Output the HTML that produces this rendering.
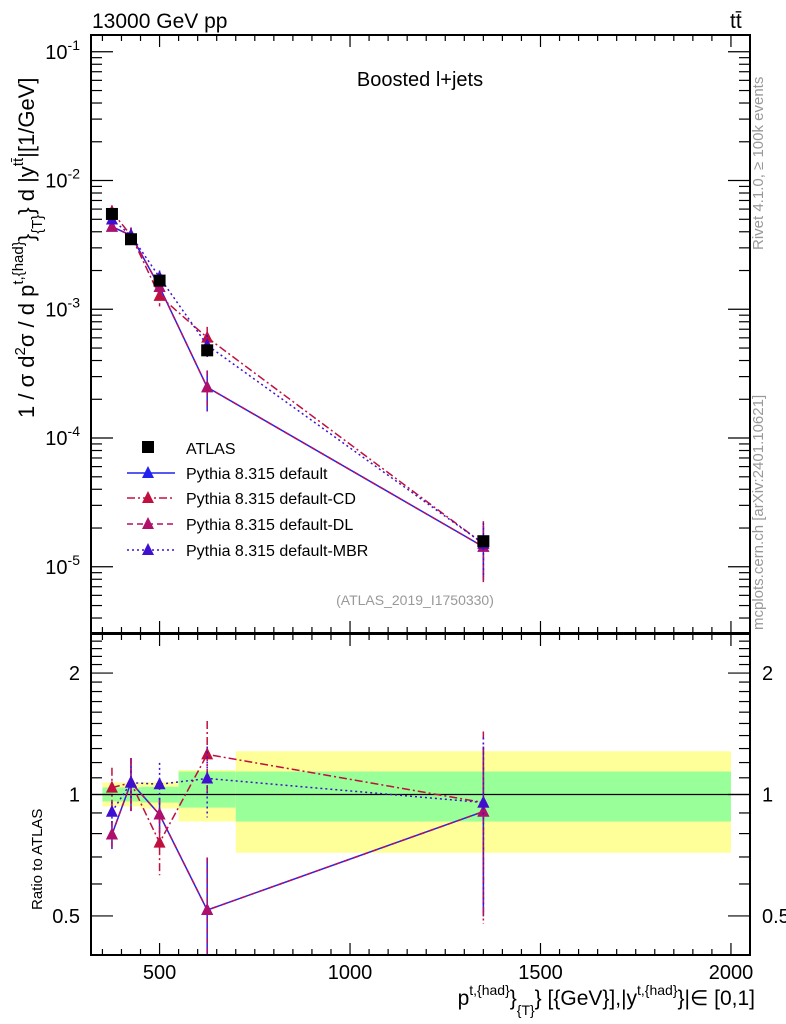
<!DOCTYPE html>
<html><head><meta charset="utf-8"><style>
body{margin:0;background:#fff;}
svg{display:block;font-family:"Liberation Sans",sans-serif;}
</style></head><body>
<svg id="chart" width="786" height="1024" viewBox="0 0 786 1024" xmlns="http://www.w3.org/2000/svg">
<text x="92" y="28" font-size="21">13000 GeV pp</text>
<text x="730" y="28" font-size="21">tt̄</text>
<text x="420" y="86" font-size="20" text-anchor="middle">Boosted l+jets</text>
<text x="415" y="605" font-size="14" fill="#999" text-anchor="middle">(ATLAS_2019_I1750330)</text>
<text transform="translate(763,250) rotate(-90)" font-size="15" fill="#999">Rivet 4.1.0, ≥ 100k events</text>
<text transform="translate(763,630) rotate(-90)" font-size="15" fill="#999">mcplots.cern.ch [arXiv:2401.10621]</text>
<text transform="translate(34,418) rotate(-90)" font-size="22">1 / σ d<tspan dy="-9" font-size="15">2</tspan><tspan dy="9">σ / d p</tspan><tspan dy="-11" font-size="15">t,{had}</tspan><tspan dy="11">}</tspan><tspan dy="8" font-size="15">{T}</tspan><tspan dy="-8">} d |y</tspan><tspan dy="-11" font-size="15">tt̄</tspan><tspan dy="11">|[1/GeV]</tspan></text>
<text transform="translate(42,910) rotate(-90)" font-size="15">Ratio to ATLAS</text>
<text x="755" y="1005" font-size="21" text-anchor="end">p<tspan dy="-10" font-size="14">t,{had}</tspan><tspan dy="10">}</tspan><tspan dy="10" font-size="14">{T}</tspan><tspan dy="-10">} [{GeV}],|y</tspan><tspan dy="-10" font-size="14">t,{had}</tspan><tspan dy="10">}|∈ [0,1]</tspan></text>
<g id="plots"></g>
</svg>
<script>
const xEdges=[350,400,450,550,700,2000];
const xCenters=[375,425,500,625,1350];
const atlasVals=[5.5e-3,3.5e-3,1.67e-3,4.8e-4,1.58e-5];
const bandStatUp=[1.041,1.041,1.045,1.14,1.14];
const bandStatDn=[0.961,0.961,0.955,0.928,0.857];
const bandTotUp=[1.071,1.071,1.075,1.15,1.28];
const bandTotDn=[0.934,0.934,0.923,0.857,0.717];
const defVals=[4.38e-3,3.75e-3,1.49e-3,2.48e-4,1.43e-5];
const cdVals=[5.72e-3,3.75e-3,1.27e-3,6.03e-4,1.51e-5];
const dlVals=[4.38e-3,3.75e-3,1.49e-3,2.48e-4,1.43e-5];
const mbrVals=[4.98e-3,3.75e-3,1.77e-3,5.26e-4,1.51e-5];
const defRatio=[0.796,1.071,0.892,0.517,0.907];
const cdRatio=[1.04,1.07,0.76,1.257,0.955];
const dlRatio=[0.796,1.071,0.892,0.517,0.907];
const mbrRatio=[0.906,1.07,1.06,1.096,0.955];
const defErr=[0.08,0.15,0.1,0.35,0.45];
const cdErr=[0.12,0.15,0.17,0.21,0.5];
const dlErr=[0.08,0.15,0.1,0.35,0.45];
const mbrErr=[0.06,0.1,0.13,0.2,0.45];
const xTickLabels=[500,1000,1500,2000];
const yTickExps=[-1,-2,-3,-4,-5];
const rTickLabels=[0.5,1,2];

const NS="http://www.w3.org/2000/svg";
const g=document.getElementById('plots');
const L=91,R=750,T=35,B=633,RT=634,RB=955;
const X0=320,X1=2050;
function sx(v){return L+(v-X0)/(X1-X0)*(R-L);}
const YMIN=Math.log10(3.06e-6),YMAX=Math.log10(0.135);
function sy(v){return B-(Math.log10(v)-YMIN)/(YMAX-YMIN)*(B-T);}
const RMIN=Math.log10(0.4),RMAX=Math.log10(2.5);
function ry(v){return RB-(Math.log10(v)-RMIN)/(RMAX-RMIN)*(RB-RT);}
function el(t,a,p){const e=document.createElementNS(NS,t);for(const k in a)e.setAttribute(k,a[k]);(p||g).appendChild(e);return e;}

for(let i=0;i<xCenters.length;i++){
  const r1=el('rect',{x:sx(xEdges[i]),y:ry(bandTotUp[i]),width:sx(xEdges[i+1])-sx(xEdges[i]),height:ry(bandTotDn[i])-ry(bandTotUp[i]),fill:'#ffff99'});
  
  
  const r2=el('rect',{x:sx(xEdges[i]),y:ry(bandStatUp[i]),width:sx(xEdges[i+1])-sx(xEdges[i]),height:ry(bandStatDn[i])-ry(bandStatUp[i]),fill:'#99ff99'});
  
  
}
const one=el('line',{x1:L,x2:R,y1:ry(1),y2:ry(1),stroke:'#000','stroke-width':1.2});



function tri(x,y,c,p){const t=el('polygon',{points:`${x},${y-7} ${x-6},${y+5} ${x+6},${y+5}`,fill:c},p);return t;}
const series=[
 {name:'default',vals:defVals,rat:defRatio,err:defErr,c:'#2222ee',dash:''},
 {name:'default-cd',vals:cdVals,rat:cdRatio,err:cdErr,c:'#c01040',dash:'8,3,2,3'},
 {name:'default-dl',vals:dlVals,rat:dlRatio,err:dlErr,c:'#b0106a',dash:'6,4'},
 {name:'default-mbr',vals:mbrVals,rat:mbrRatio,err:mbrErr,c:'#4010d0',dash:'2,3'}
];
series.forEach(s=>{
  const gs=el('g',{});
  
  
  const p1=s.vals.map((v,i)=>sx(xCenters[i])+','+sy(v)).join(' ');
  el('polyline',{points:p1,fill:'none',stroke:s.c,'stroke-width':1.5,'stroke-dasharray':s.dash},gs);
  const p2=s.rat.map((v,i)=>sx(xCenters[i])+','+ry(v)).join(' ');
  el('polyline',{points:p2,fill:'none',stroke:s.c,'stroke-width':1.5,'stroke-dasharray':s.dash},gs);
  s.vals.forEach((v,i)=>{
    const x=sx(xCenters[i]);
    el('line',{x1:x,x2:x,y1:sy(v*(1+s.err[i])),y2:sy(Math.max(v*(1-s.err[i]),1e-9)),stroke:s.c,'stroke-width':1.5,'stroke-dasharray':s.dash},gs);
    tri(x,sy(v),s.c,gs);
    const rv=s.rat[i];
    const lo=Math.max(rv*(1-s.err[i]),0.4),hi=Math.min(rv*(1+s.err[i]),2.5);
    el('line',{x1:x,x2:x,y1:ry(hi),y2:ry(lo),stroke:s.c,'stroke-width':1.5,'stroke-dasharray':s.dash},gs);
    tri(x,ry(rv),s.c,gs);
  });
});
atlasVals.forEach((v,i)=>{
  const m=el('rect',{x:sx(xCenters[i])-6,y:sy(v)-6,width:12,height:12,fill:'#000'});
  
  
});

[[T,B],[RT,RB]].forEach(([a,b])=>{el('rect',{x:L,y:a,width:R-L,height:b-a,fill:'none',stroke:'#000','stroke-width':2});});
for(let v=350;v<=2050;v+=50){
  const x=sx(v);const maj=v%500===0;const len=maj?12:6;
  [[T,1],[B,-1],[RT,1],[RB,-1]].forEach(([y,d])=>el('line',{x1:x,x2:x,y1:y,y2:y+d*len,stroke:'#000','stroke-width':1.2}));
}
xTickLabels.forEach(v=>{const t=el('text',{x:sx(v),y:RB+24,'font-size':20,'text-anchor':'middle'});t.textContent=v;

});
for(let e=-6;e<=-1;e++){for(let k=1;k<10;k++){const v=k*Math.pow(10,e);if(v<3.06e-6||v>0.135)continue;const y=sy(v);const len=k===1?22:11;
 el('line',{x1:L,x2:L+len,y1:y,y2:y,stroke:'#000','stroke-width':1.2});el('line',{x1:R,x2:R-len,y1:y,y2:y,stroke:'#000','stroke-width':1.2});}}
yTickExps.forEach(e=>{const t=el('text',{x:80,y:sy(Math.pow(10,e))+7,'font-size':20,'text-anchor':'end'});
t.innerHTML='10<tspan dy="-9" font-size="14">'+e+'</tspan>';

});
for(let v=0.4;v<=2.51;v+=0.1){const rv=Math.round(v*10)/10;const y=ry(rv);const maj=[0.5,1,2].includes(rv);const len=maj?22:11;
 el('line',{x1:L,x2:L+len,y1:y,y2:y,stroke:'#000','stroke-width':1.2});el('line',{x1:R,x2:R-len,y1:y,y2:y,stroke:'#000','stroke-width':1.2});}
rTickLabels.forEach(v=>{[[80,'end'],[762,'start']].forEach(([x,a])=>{const t=el('text',{x:x,y:ry(v)+7,'font-size':20,'text-anchor':a});t.textContent=v;

});});

const lg=el('g',{});


const ly=[447,473,498,524,550];
el('rect',{x:142,y:ly[0]-6,width:12,height:12,fill:'#000'},lg);
let t0=el('text',{x:186,y:ly[0]+7,'font-size':16},lg);t0.textContent='ATLAS';
const names=['Pythia 8.315 default','Pythia 8.315 default-CD','Pythia 8.315 default-DL','Pythia 8.315 default-MBR'];
series.forEach((s,i)=>{const y=ly[i+1];
 el('line',{x1:127,x2:175,y1:y,y2:y,stroke:s.c,'stroke-width':1.5,'stroke-dasharray':s.dash},lg);
 tri(148,y,s.c,lg);
 const t=el('text',{x:186,y:y+6,'font-size':16},lg);t.textContent=names[i];
 
 
});
</script>
</body></html>
